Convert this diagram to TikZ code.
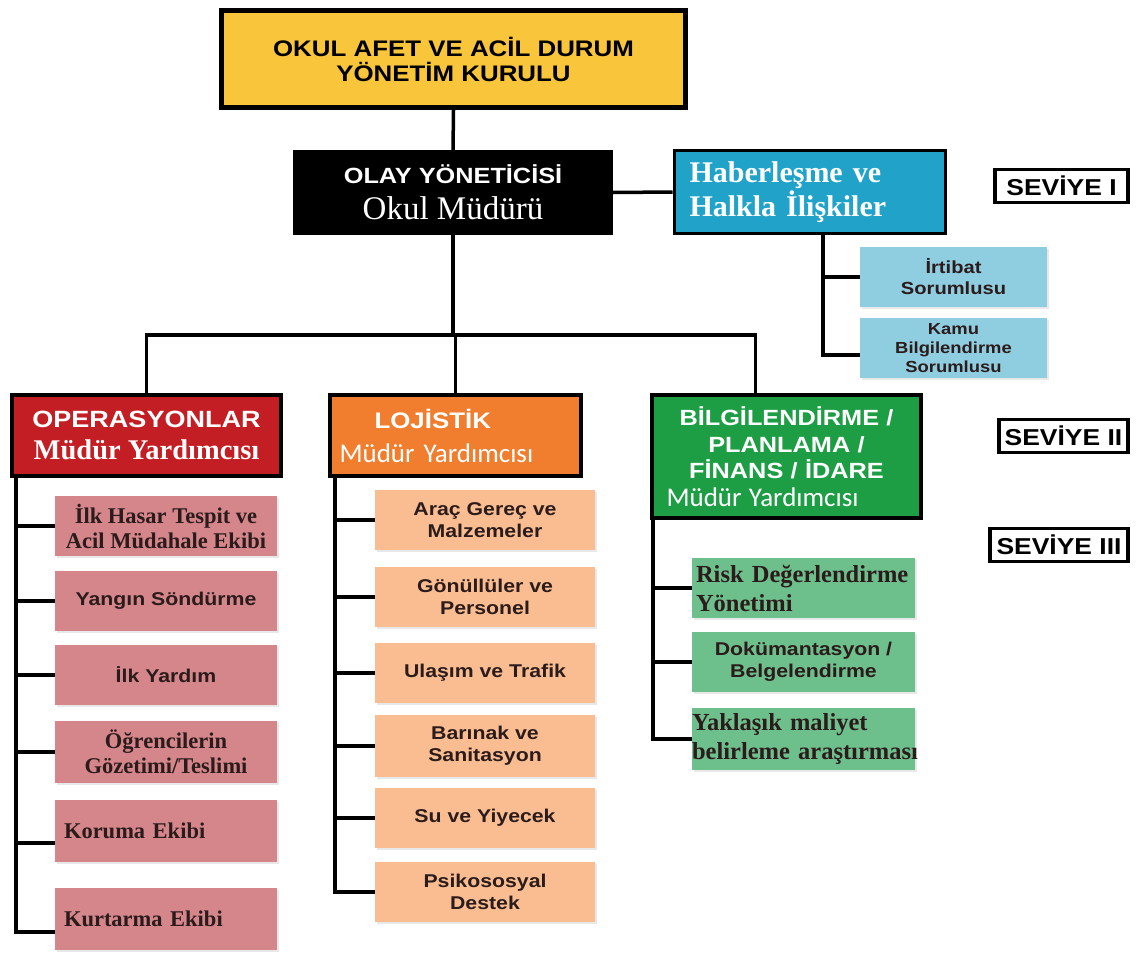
\documentclass[tikz,border=0pt]{standalone}
\usepackage{fontspec}
\setmainfont{Liberation Serif}
\setsansfont{Liberation Sans}[FakeStretch=1.15]
\newfontfamily\calib{Carlito}
\usetikzlibrary{calc,shadows}
\definecolor{cyellow}{HTML}{F9C53A}
\definecolor{cred}{HTML}{C41E25}
\definecolor{corange}{HTML}{F07E2E}
\definecolor{cgreen}{HTML}{1E9E44}
\definecolor{cblue}{HTML}{21A3C9}
\definecolor{clblue}{HTML}{8FCDE0}
\definecolor{cpink}{HTML}{D4868B}
\definecolor{clorange}{HTML}{F9BD91}
\definecolor{clgreen}{HTML}{6DBF8C}
\definecolor{subtext}{HTML}{2B1B1B}
\tikzset{
  box/.style={draw=black, line width=4pt, inner sep=0pt, align=center},
  sub/.style={draw=none, inner sep=0pt, align=center, minimum width=222pt, minimum height=60pt, text=subtext,
    drop shadow={shadow xshift=2pt, shadow yshift=-2pt, opacity=0.18}},
  subsans/.style={font=\sffamily\bfseries\fontsize{18.5}{22}\selectfont},
  subserif/.style={font=\bfseries\fontsize{22.5}{25}\selectfont},
  gserif/.style={font=\bfseries\fontsize{24.5}{29}\selectfont},
  level/.style={draw=black, line width=3.5pt, fill=white, inner sep=0pt, minimum height=33pt, font=\sffamily\bfseries\fontsize{23}{25}\selectfont},
  conn/.style={line width=3.5pt, black},
}
\begin{document}
\begin{tikzpicture}[x=1pt,y=-1pt]
\useasboundingbox[fill=white] (0,0) rectangle (1139,952);

% top
\node[box, line width=5pt, fill=cyellow, minimum width=464pt, minimum height=97pt,
  font=\sffamily\bfseries\fontsize{22.5}{25}\selectfont] (top) at (453.5,59) {OKUL AFET VE ACİL DURUM\\YÖNETİM KURULU};

\node[fill=black, inner sep=0pt, minimum width=320pt, minimum height=85pt, align=center, text=white,
  font=\fontsize{33}{36}\selectfont] (oy) at (453,192.5)
  {{\sffamily\bfseries\fontsize{22}{24}\selectfont OLAY YÖNETİCİSİ}\\{\fontsize{33}{36}\selectfont Okul Müdürü}};

\node[box, line width=3pt, fill=cblue, minimum width=271pt, minimum height=82pt, text=white, align=left,
  text width=240pt, font=\bfseries\fontsize{30}{34}\selectfont] (hab) at (809.5,192) {Haberleşme ve\\Halkla İlişkiler};

\node[sub, fill=clblue, minimum width=187pt, font=\sffamily\bfseries\fontsize{17.5}{21}\selectfont] (irt) at (953.5,277) {İrtibat\\Sorumlusu};
\node[sub, fill=clblue, minimum width=187pt, font=\sffamily\bfseries\fontsize{16}{19}\selectfont] (kamu) at (953.5,348) {Kamu\\Bilgilendirme\\Sorumlusu};

% levels
\node[level, minimum width=133pt] (lv1) at (1061.5,186) {SEVİYE I};
\node[level, minimum width=129pt] (lv2) at (1063.5,436) {SEVİYE II};
\node[level, minimum width=138pt] (lv3) at (1059,545) {SEVİYE III};

% level II
\node[box, fill=cred, minimum width=269pt, minimum height=81pt, text=white,
  font=\fontsize{28}{32}\selectfont] (op) at (146.5,435.5)
  {{\sffamily\bfseries\fontsize{23.5}{26}\selectfont OPERASYONLAR}\\{\bfseries\fontsize{28.5}{32}\selectfont Müdür Yardımcısı}};

\node[box, fill=corange, minimum width=251pt, minimum height=81pt, text=white, align=left, text width=232pt,
  font=\fontsize{27}{34}\selectfont] (lo) at (455.5,435.5)
  {{\hspace*{35pt}\sffamily\bfseries\fontsize{22.5}{26}\selectfont LOJİSTİK}\\{\calib\fontsize{27}{30}\selectfont Müdür Yardımcısı}};

\node[box, fill=cgreen, minimum width=269pt, minimum height=123pt, text=white, align=left, text width=240pt,
  font=\fontsize{22}{26.5}\selectfont] (bil) at (786.5,456.5)
  {\makebox[240pt]{\sffamily\bfseries\fontsize{22}{26}\selectfont BİLGİLENDİRME /}\\
   \makebox[240pt]{\sffamily\bfseries\fontsize{22}{26}\selectfont PLANLAMA /}\\
   \makebox[240pt]{\sffamily\bfseries\fontsize{22}{26}\selectfont FİNANS / İDARE}\\[1pt]
   {\calib\fontsize{27}{30}\selectfont Müdür Yardımcısı}};

% operasyonlar subs
\node[sub, fill=cpink, subserif] (o1) at (166,526) {İlk Hasar Tespit ve\\Acil Müdahale Ekibi};
\node[sub, fill=cpink, subsans] (o2) at (166,601) {Yangın Söndürme};
\node[sub, fill=cpink, subsans] (o3) at (166,675) {İlk Yardım};
\node[sub, fill=cpink, subserif, minimum height=62pt] (o4) at (166,752) {Öğrencilerin\\Gözetimi/Teslimi};
\node[sub, fill=cpink, subserif, minimum height=62pt, align=left, text width=204pt] (o5) at (166,831) {Koruma Ekibi};
\node[sub, fill=cpink, subserif, minimum height=62pt, align=left, text width=204pt] (o6) at (166,919) {Kurtarma Ekibi};

% lojistik subs
\node[sub, fill=clorange, subsans, minimum width=220pt] (l1) at (485,520) {Araç Gereç ve\\Malzemeler};
\node[sub, fill=clorange, subsans, minimum width=220pt] (l2) at (485,597) {Gönüllüler ve\\Personel};
\node[sub, fill=clorange, subsans, minimum width=220pt] (l3) at (485,673) {Ulaşım ve Trafik};
\node[sub, fill=clorange, subsans, minimum width=220pt, minimum height=62pt] (l4) at (485,746) {Barınak ve\\Sanitasyon};
\node[sub, fill=clorange, subsans, minimum width=220pt] (l5) at (485,818) {Su ve Yiyecek};
\node[sub, fill=clorange, subsans, minimum width=220pt] (l6) at (485,892) {Psikososyal\\Destek};

% bilgilendirme subs
\node[sub, fill=clgreen, gserif, minimum width=223pt, align=left, text width=215pt] (g1) at (803.5,588) {Risk Değerlendirme\\Yönetimi};
\node[sub, fill=clgreen, subsans, minimum width=223pt] (g2) at (803.5,662) {Dokümantasyon /\\Belgelendirme};
\node[sub, fill=clgreen, gserif, minimum width=223pt, minimum height=62pt, align=left, text width=223pt] (g3) at (803.5,739) {\mbox{Yaklaşık maliyet}\\\mbox{belirleme araştırması}};

% connectors
\coordinate (bus) at (455,335);
\draw[conn] (top.south) -- (oy.north);
\draw[conn] (oy.east) -- (hab.west);
\draw[conn] (oy.south) -- (oy.south |- bus);
\draw[conn] (op.north) -- (op.north |- bus) -- ([xshift=-31pt]bil.north |- bus) -- ([xshift=-31pt]bil.north);
\draw[conn] (lo.north) -- (lo.north |- bus);

\coordinate (hv) at ([xshift=13.5pt]hab.south);
\draw[conn] (hv) |- ([yshift=-7pt]kamu.west);
\draw[conn] (hv |- irt.west) -- (irt.west);

\coordinate (ov) at ([xshift=6pt]op.south west);
\draw[conn] (ov) |- ([yshift=-13pt]o6.west);
\foreach \n in {o1,o2,o3,o4} \draw[conn] (ov |- \n.west) -- (\n.west);
\draw[conn] (ov |- o5.west) ++(0,12) -- ([yshift=-12pt]o5.west);

\coordinate (lv) at ([xshift=7pt]lo.south west);
\draw[conn] (lv) |- (l6.west);
\foreach \n in {l1,l2,l3,l4,l5} \draw[conn] (lv |- \n.west) -- (\n.west);

\coordinate (gv) at ([xshift=3pt]bil.south west);
\draw[conn] (gv) |- (g3.west);
\foreach \n in {g1,g2} \draw[conn] (gv |- \n.west) -- (\n.west);
\end{tikzpicture}
\end{document}
